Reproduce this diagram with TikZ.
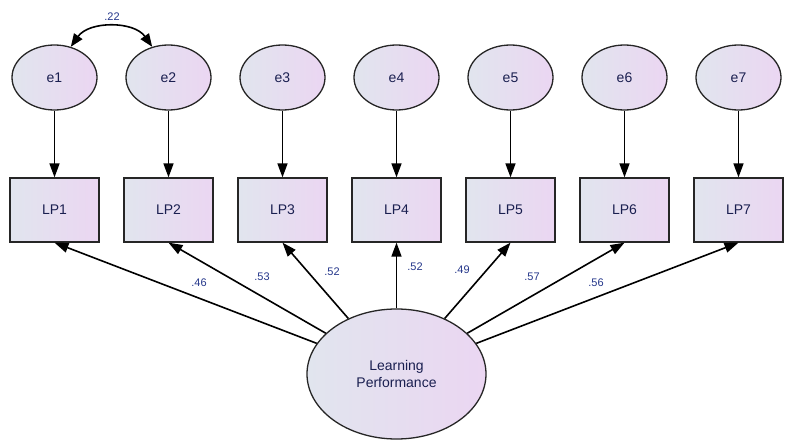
\documentclass[tikz,border=0pt]{standalone}
\usepackage{fontspec}
\setmainfont{Liberation Sans}
\usetikzlibrary{arrows.meta,shapes.geometric}
\definecolor{fillA}{HTML}{E1E5EE}
\definecolor{fillB}{HTML}{EBD6F2}
\definecolor{txt}{HTML}{1A1F50}
\definecolor{lbl}{HTML}{24368A}
\tikzset{
  errnode/.style={ellipse, draw=black!85, line width=1.3pt, minimum width=85pt, minimum height=65pt, inner sep=0pt,
    left color=fillA, right color=fillB, text=txt, font=\fontsize{14}{16}\selectfont},
  obsnode/.style={rectangle, draw=black!85, line width=1.3pt, minimum width=89pt, minimum height=64pt, inner sep=0pt,
    left color=fillA, right color=fillB, text=txt, font=\fontsize{14}{16}\selectfont},
  latnode/.style={ellipse, draw=black!85, line width=1.3pt, minimum width=179pt, minimum height=130pt, inner sep=0pt,
    left color=fillA, right color=fillB, text=txt, font=\fontsize{14}{17}\selectfont, align=center},
  arr/.style={-{Triangle[length=14pt,width=10pt]}, line width=1.6pt, black},
  biarr/.style={{Triangle[length=13pt,width=10pt]}-{Triangle[length=13pt,width=10pt]}, line width=1.6pt, black},
  wlab/.style={text=lbl, font=\fontsize{11}{13}\selectfont, inner sep=0pt}
}
\begin{document}
\begin{tikzpicture}[x=1pt,y=-1pt]
\useasboundingbox (0,0) rectangle (788,441);
\foreach \i/\x in {1/54.5,2/168.5,3/282.5,4/396.5,5/510.5,6/624.5,7/738.5}{
  \node[errnode] (e\i) at (\x,77.5) {e\i};
  \node[obsnode] (LP\i) at (\x,210) {LP\i};
  \draw[arr] (e\i) -- (LP\i);
}
\node[latnode] (F) at (396.5,374) {Learning\\Performance};
\foreach \i in {1,...,7}{
  \draw[arr] (F) -- (LP\i.south);
}
\draw[biarr] (e1.62) to[out=55,in=125] (e2.118);
\node[wlab] (c12) at (112,17) {.22};
\node[wlab] (l1) at (199,283) {.46};
\node[wlab] (l2) at (262,277) {.53};
\node[wlab] (l3) at (332,272) {.52};
\node[wlab] (l4) at (415,267) {.52};
\node[wlab] (l5) at (462,270) {.49};
\node[wlab] (l6) at (532,277) {.57};
\node[wlab] (l7) at (596,283) {.56};
\end{tikzpicture}
\end{document}
